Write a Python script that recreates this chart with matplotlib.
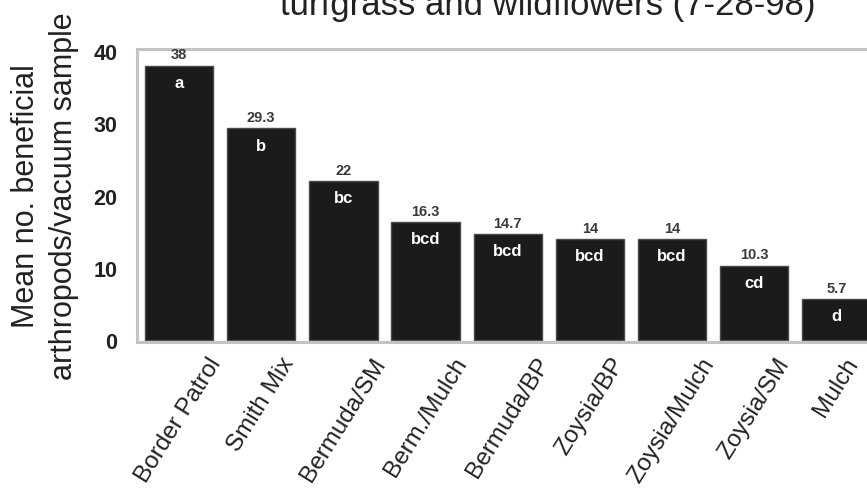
import matplotlib
matplotlib.use('Agg')
import matplotlib.pyplot as plt

plt.rcParams['font.family'] = ['Liberation Sans', 'DejaVu Sans']

# mean beneficial arthropods per vacuum sample, 7-28-98
treatments = ['Border Patrol', 'Smith Mix', 'Bermuda/SM', 'Berm./Mulch', 'Bermuda/BP',
              'Zoysia/BP', 'Zoysia/Mulch', 'Zoysia/SM', 'Mulch']
means = [38, 29.3, 22, 16.3, 14.7, 14, 14, 10.3, 5.7]
groups = ['a', 'b', 'bc', 'bcd', 'bcd', 'bcd', 'bcd', 'cd', 'd']
yticks = [0, 10, 20, 30, 40]

fig = plt.figure(figsize=(8.67, 4.89), dpi=100)
ax = fig.add_axes([0.158, 0.2986, 0.8466, 0.599])

ind = range(len(treatments))
ax.bar(ind, means, width=0.83, color='#1b1b1b', edgecolor='#4a4a4a', linewidth=1.0, zorder=2)

for i in ind:
    ax.annotate('%g' % means[i], (i, means[i]), xytext=(0, 3), textcoords='offset points',
                ha='center', va='bottom', fontsize=10.5, fontweight='bold', color='#3a3a3a')
    ax.annotate(groups[i], (i, means[i]), xytext=(0, -12), textcoords='offset points',
                ha='center', va='center', fontsize=12, fontweight='bold', color='white')

ax.set_xlim(-0.512, 8.42)
ax.set_ylim(-0.28, 40.28)
ax.set_yticks(yticks)
ax.set_xticks(list(ind))
ax.set_xticklabels(treatments, rotation=58, ha='center', va='top', fontsize=17.5)
for lab in ax.get_yticklabels():
    lab.set_fontweight('bold')
    lab.set_fontsize(15.5)
ax.tick_params(axis='y', length=0, pad=14, colors='#222222')
ax.tick_params(axis='x', length=0, pad=8, colors='#222222')

for side in ['left', 'top', 'bottom', 'right']:
    ax.spines[side].set_color('#c2c2c2')
    ax.spines[side].set_linewidth(2.2)

fig.text(26 / 867., 0.599, 'Mean no. beneficial', rotation=90, ha='center', va='center',
         fontsize=22, color='#222222')
fig.text(64 / 867., 0.599, 'arthropods/vacuum sample', rotation=90, ha='center', va='center',
         fontsize=22, color='#222222')
fig.text(548 / 867., 474 / 489., 'turfgrass and wildflowers (7-28-98)', ha='center',
         va='baseline', fontsize=25, color='#222222')

fig.savefig('out.png', dpi=100)
